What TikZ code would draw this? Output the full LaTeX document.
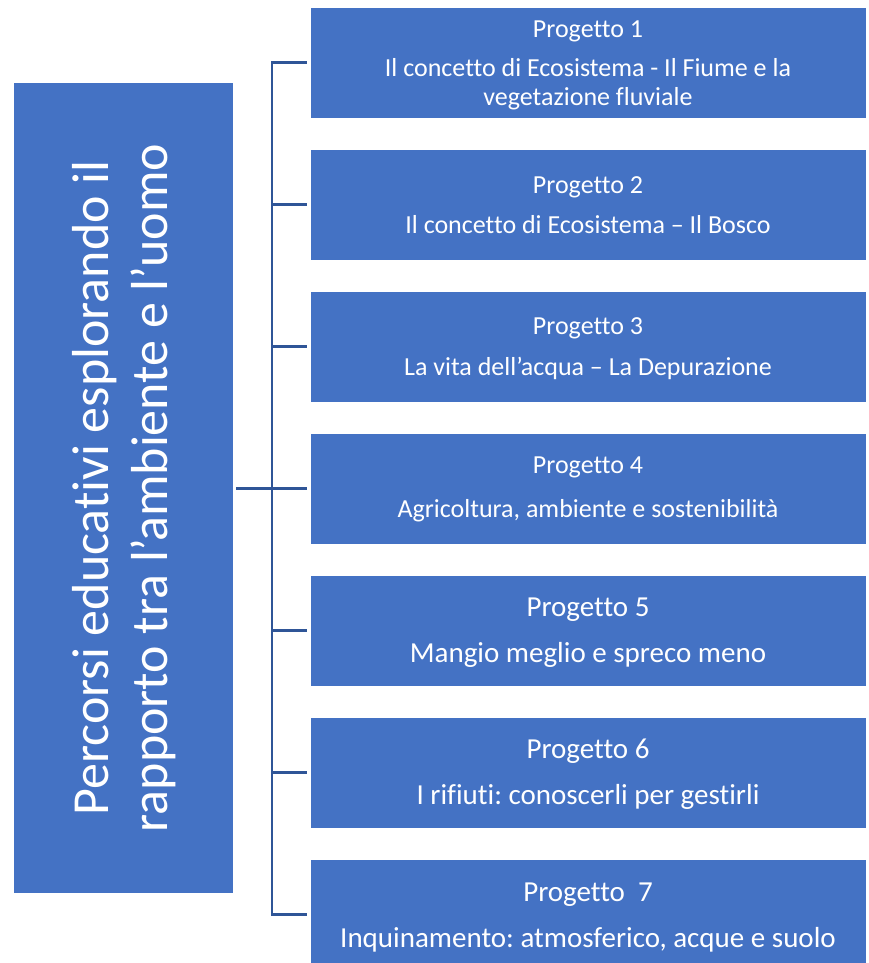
\documentclass[tikz,border=0pt]{standalone}
\usepackage{fontspec}
\setmainfont{Carlito}[Ligatures=NoCommon]
\frenchspacing
\definecolor{boxblue}{HTML}{4472C4}
\definecolor{linkblue}{HTML}{2F5597}
\begin{document}
\begin{tikzpicture}[x=1pt,y=-1pt,
  projbox/.style={fill=boxblue,draw=white,line width=0.6pt,minimum width=556pt,minimum height=111pt,inner sep=0pt,anchor=center},
  projtext/.style={text=white,align=center,inner sep=0pt,anchor=center},
  smallt/.style={font=\frenchspacing\fontsize{26}{29}\selectfont},
  bigt/.style={font=\frenchspacing\fontsize{29}{35}\selectfont},
  conn/.style={draw=linkblue,line width=2.8pt}]
\useasboundingbox (0,0) rectangle (868,963);
\begin{scope}
\clip (0,0) rectangle (868,963);
\node[fill=boxblue,minimum width=219pt,minimum height=810pt,inner sep=0pt] (L) at (123.5,488) {};
\node[rotate=90,text=white,align=center,font=\fontsize{52}{59}\selectfont] (Lt) at ([xshift=1pt]L.center) {Percorsi educativi esplorando il\\rapporto tra l’ambiente e l’uomo};
\foreach \i/\y in {1/62.5,2/204.5,3/346.5,4/488.5,5/630.5,6/772.5,7/914.5}{
  \node[projbox] (B\i) at (588,\y) {};
}
\node[projtext,smallt] (T1) at ([yshift=-3pt]B1.center) {Progetto 1\\[10pt]Il concetto di Ecosistema - Il Fiume e la\\vegetazione fluviale};
\node[projtext,smallt] (T2) at ([yshift=-1pt]B2.center) {Progetto 2\\[11pt]Il concetto di Ecosistema – Il Bosco};
\node[projtext,smallt] (T3) at ([yshift=-2pt]B3.center) {Progetto 3\\[12pt]La vita dell’acqua – La Depurazione};
\node[projtext,smallt] (T4) at ([yshift=-1pt]B4.center) {Progetto 4\\[15pt]Agricoltura, ambiente e sostenibilità};
\node[projtext,bigt] (T5) at ([yshift=-2pt]B5.center) {Progetto 5\\[11pt]Mangio meglio e spreco meno};
\node[projtext,bigt] (T6) at ([yshift=-2pt]B6.center) {Progetto 6\\[11pt]I rifiuti: conoscerli per gestirli};
\node[projtext,bigt] (T7) at ([yshift=-3pt]B7.center) {Progetto\ \ 7\\[11pt]Inquinamento: atmosferico, acque e suolo};
\end{scope}
\coordinate (spine) at (272,0);
\coordinate (s7) at (spine |- B7.west);
\draw[conn,shorten <=3pt,shorten >=3pt] (B1.west) -| (s7) -- (B7.west);
\foreach \i in {2,3,4,5,6}{
  \draw[conn,shorten >=3pt] (spine |- B\i.west) -- (B\i.west);
}
\draw[conn,shorten <=3pt,shorten >=3pt] (L.east |- B4.west) -- (B4.west);
\end{tikzpicture}
\end{document}
